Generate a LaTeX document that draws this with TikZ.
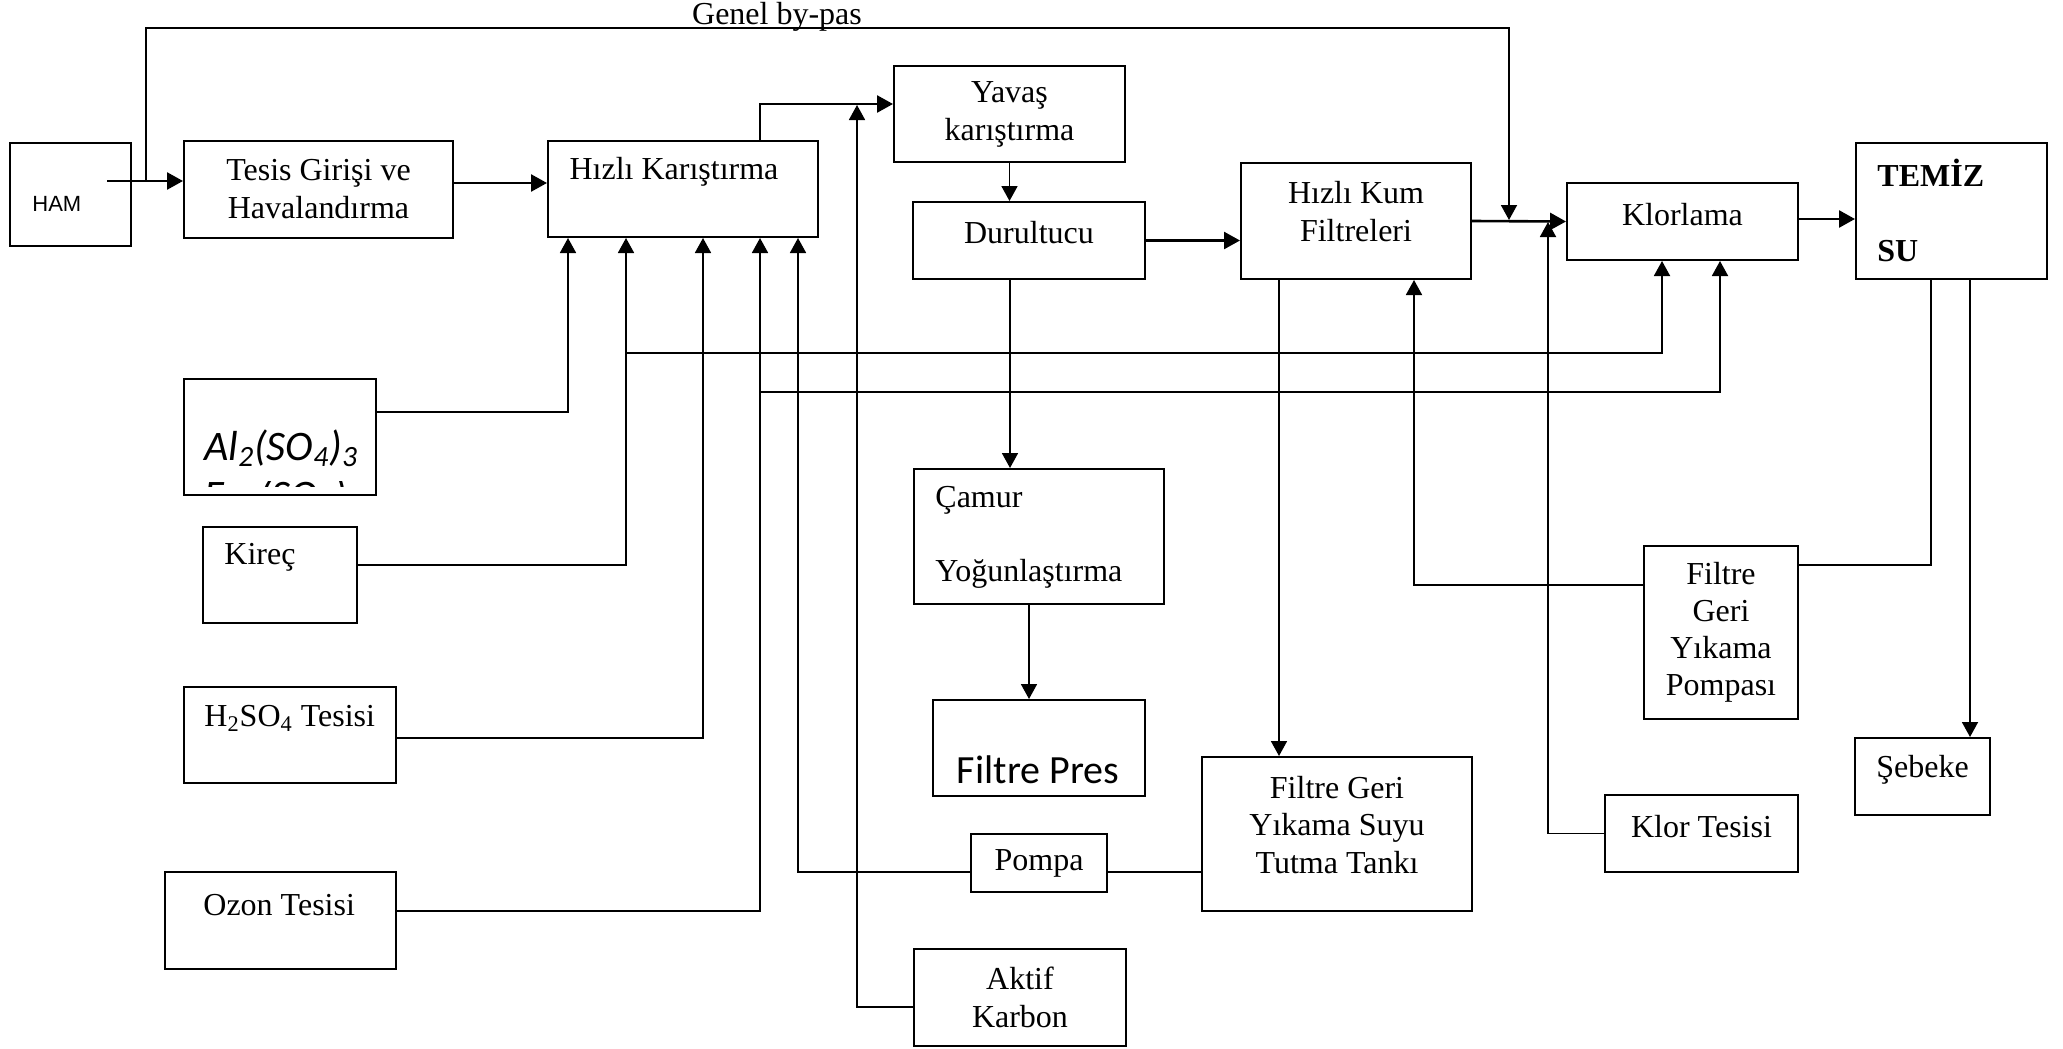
\documentclass[tikz,border=0pt]{standalone}
\usepackage{fontspec}
\setmainfont{Liberation Serif}
\newfontfamily\arialfont{Liberation Sans}
\newfontfamily\calfont{Carlito}
\usetikzlibrary{arrows.meta,calc}
\begin{document}
\begin{tikzpicture}[x=0.5pt,y=-0.5pt]
\tikzstyle{every node}=[font=\fontsize{16}{19}\selectfont]
\tikzstyle{kutu}=[draw,line width=1pt,inner sep=0pt,align=center]
\tikzstyle{yazi}=[anchor=west,inner xsep=0pt]
\tikzstyle{kalin}=[line width=1.3pt,-{Triangle[length=8pt,width=8.5pt]}]
\tikzstyle{ince}=[line width=0.9pt,-{Triangle[length=7.5pt,width=8pt]}]
\tikzstyle{hat}=[line width=0.9pt]
\useasboundingbox (0,0) rectangle (2063,1049);
% kutular
\node[kutu,minimum width=60.5pt,minimum height=51.5pt] (ham) at (70.5,194.5) {};
\node[kutu,minimum width=134.5pt,minimum height=48.5pt] (tesis) at (318.5,189.5) {Tesis Girişi ve\\Havalandırma};
\node[kutu,minimum width=135pt,minimum height=48pt] (hizli) at (683,189) {};
\node[kutu,minimum width=115.5pt,minimum height=48pt] (yavas) at (1009.5,114) {Yavaş\\karıştırma};
\node[kutu,minimum width=116pt,minimum height=38.5pt] (durultucu) at (1029,240.5) {};
\node[kutu,minimum width=115pt,minimum height=58pt] (hkf) at (1356,221) {};
\node[kutu,minimum width=115.5pt,minimum height=38.5pt] (klorlama) at (1682.5,221.5) {};
\node[kutu,minimum width=95.5pt,minimum height=68pt] (temiz) at (1951.5,211) {};
\node[kutu,minimum width=96pt,minimum height=58pt] (al) at (280,437) {};
\node[kutu,minimum width=77pt,minimum height=48pt] (kirec) at (280,575) {};
\node[kutu,minimum width=106pt,minimum height=48pt] (h2so4) at (290,735) {};
\node[kutu,minimum width=115.5pt,minimum height=48.5pt] (ozon) at (280.5,920.5) {};
\node[kutu,minimum width=125pt,minimum height=67.5pt] (camur) at (1039,536.5) {};
\node[kutu,minimum width=106pt,minimum height=48pt] (pres) at (1039,748) {};
\node[kutu,minimum width=68pt,minimum height=29pt] (pompa) at (1039,863) {Pompa};
\node[kutu,minimum width=106pt,minimum height=48.5pt] (aktif) at (1020,997.5) {Aktif\\Karbon};
\node[kutu,minimum width=135pt,minimum height=77pt] (tank) at (1337,834) {};
\node[kutu,minimum width=77pt,minimum height=86.5pt,font=\fontsize{16}{18.5}\selectfont] (fgyp) at (1721,632.5) {Filtre\\Geri\\Yıkama\\Pompası};
\node[kutu,minimum width=96.5pt,minimum height=38.5pt] (klortes) at (1701.5,833.5) {};
\node[kutu,minimum width=67.5pt,minimum height=38.5pt] (sebeke) at (1922.5,776.5) {};
% yazilar
\node[yazi,font=\arialfont\fontsize{11}{13}\selectfont] (hamyazi) at (32,204) {HAM};
\node (hizliyazi) at (674,172) {Hızlı Karıştırma};
\node (durultucuyazi) at (1029,233) {Durultucu};
\node[align=center] (hkfyazi) at (1356,212) {Hızlı Kum\\Filtreleri};
\node (klorlamayazi) at (1682.5,215) {Klorlama};
\node[yazi,align=left,font=\bfseries\fontsize{16}{19}\selectfont] (temizyazi) at (1877,210) {TEMİZ\\[18.5pt]SU};
\node[yazi,font=\calfont\itshape\fontsize{21}{25}\selectfont] (alyazi) at (204,448) {Al\textsubscript{2}(SO\textsubscript{4})\textsubscript{3}};
\begin{scope}
\clip (186,481.5) rectangle (374,486);
\node[anchor=base west,inner xsep=0pt,font=\calfont\itshape\fontsize{21}{25}\selectfont] (feyazi) at (204,509) {Fe\textsubscript{2}(SO\textsubscript{4})\textsubscript{3}};
\end{scope}
\node[yazi] (kirecyazi) at (224,557) {Kireç};
\node[yazi] (h2so4yazi) at (204,718) {H\textsubscript{2}SO\textsubscript{4} Tesisi};
\node[yazi] (ozonyazi) at (203,905) {Ozon Tesisi};
\node[yazi,align=left] (camuryazi) at (935,537) {Çamur\\[18pt]Yoğunlaştırma};
\node[font=\calfont\fontsize{20}{24}\selectfont] (presyazi) at (1038,770) {Filtre Pres};
\node[align=center,font=\fontsize{16}{18.7}\selectfont] (tankyazi) at (1337,825) {Filtre Geri\\Yıkama Suyu\\Tutma Tankı};
\node (klortesyazi) at (1701.5,827) {Klor Tesisi};
\node (sebekeyazi) at (1922.5,770) {Şebeke};
\node (bypasyazi) at (777,17) {Genel by-pas};
% ana akis
\coordinate (hamuc) at (107,181);
\coordinate (bp) at (146,181);
\coordinate (bpuc) at (1509,220);
\coordinate (karbonuc) at (857,105);
\coordinate (klorucu) at (1548,222);
\coordinate (kol1) at (626,353);
\coordinate (kol2) at (760,392);
\draw[kalin] (hamuc) -- (hamuc -| tesis.west);
\draw[ince] (bp) -- (146,28) -- (1509,28) -- (bpuc);
\draw[kalin] ([yshift=3.25pt]tesis.east) -- ([yshift=3pt]hizli.west);
\draw[kalin] ([xshift=38.5pt]hizli.north) |- ([yshift=5pt]yavas.west);
\draw[ince] (yavas.south) -- (yavas.south |- durultucu.north);
\draw[kalin] (durultucu.east) -- (durultucu.east -| hkf.west);
\draw[kalin] (hkf.east) -- (klorlama.west);
\draw[kalin] ([yshift=1.25pt]klorlama.east) -- ([yshift=1.25pt]klorlama.east -| temiz.west);
\draw[ince] ([xshift=-9.5pt]durultucu.south) -- ([xshift=-9.5pt]durultucu.south |- camur.north);
\draw[ince] ([xshift=-5pt]camur.south) -- ([xshift=-5pt]pres.north);
\draw[ince] ([xshift=-38.5pt]hkf.south) -- ([xshift=-29pt]tank.north);
\draw[ince] ([yshift=23.75pt]fgyp.west) -| ([xshift=29pt]hkf.south);
\draw[hat] ([xshift=-10.25pt]temiz.south) |- ([yshift=33.75pt]fgyp.east);
\draw[ince] ([xshift=9.25pt]temiz.south) -- ([xshift=23.75pt]sebeke.north);
\draw[ince] (klortes.west) -| (klorucu);
\draw[hat] ([yshift=-4.5pt]pompa.east) -- ([yshift=-4.5pt]pompa.east -| tank.west);
\draw[ince] ([yshift=-4.75pt]aktif.west) -| (karbonuc);
% kimyasal besleme
\foreach \src/\dy/\dx in {al/12.5/-57.5, kirec/5/-28.5, h2so4/-1.5/10, ozon/4.75/38.5}
    \draw[ince] ([yshift=\dy pt]\src.east) -| ([xshift=\dx pt]hizli.south);
\draw[ince] ([yshift=-4.5pt]pompa.west) -| ([xshift=57.5pt]hizli.south);
\draw[ince] (kol1) -| ([xshift=-10.25pt]klorlama.south);
\draw[ince] (kol2) -| ([xshift=18.75pt]klorlama.south);
\end{tikzpicture}
\end{document}
